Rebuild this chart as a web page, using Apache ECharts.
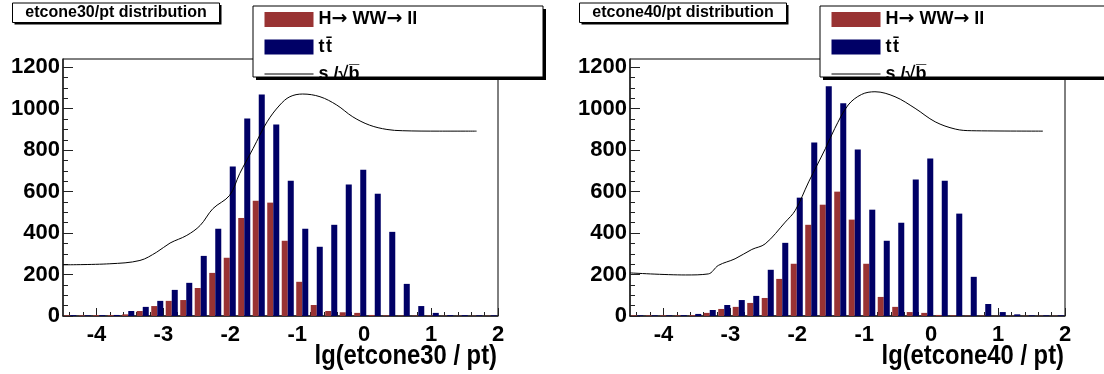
<!DOCTYPE html>
<html>
<head>
<meta charset="utf-8">
<script src="https://cdn.jsdelivr.net/npm/echarts@6/dist/echarts.min.js"></script>
<style>
html,body{margin:0;padding:0;background:#fff;}
#c{width:1104px;height:374px;}
</style>
</head>
<body>
<div id="c"></div>
<script>
// ---- data ----
const binCount = 30; // 30 bins from -4.5 to 2
const binLabels = Array.from({length: binCount}, (_, i) => String(i));
const xTickLabels = [-4, -3, -2, -1, 0, 1, 2];
const yTickLabels = [0, 200, 400, 600, 800, 1000, 1200];

const sigName = 'H\u2192 WW\u2192 ll';
const bkgName = 't\u200At\u0304';
const ratioName = 's /\u221Ab\u0305';

// etcone30/pt
const sig30 = [3,3,4,4,8,24,48,73,77,135,208,281,473,556,547,363,165,53,24,18,15,5,3,2,2,2,1,1,1,1];
const bkg30 = [4,3,4,5,24,44,73,126,160,290,421,721,953,1069,924,653,421,334,440,634,706,590,406,155,48,15,4,4,3,3];
const ratio30X = [-4.5,-3.8,-3.35,-3.1,-2.9,-2.65,-2.45,-2.26,-2.01,-1.86,-1.66,-1.45,-1.26,-1.11,-0.92,-0.66,-0.41,-0.17,0.08,0.34,0.57,1.13,1.68];
const ratio30Y = [247,252,268,308,352,389,437,518,582,687,808,937,1018,1058,1071,1058,1018,961,921,900,894,892,892];

// etcone40/pt
const sig40 = [3,3,3,3,4,15,34,44,63,87,179,252,440,537,600,465,252,92,44,19,15,5,3,2,2,1,1,1,1,1];
const bkg40 = [3,3,3,4,10,29,53,77,97,223,353,571,837,1108,1026,803,513,363,450,658,760,653,494,189,58,19,8,3,3,3];
const ratio40X = [-4.5,-3.67,-3.33,-3.18,-2.93,-2.68,-2.48,-2.18,-2.03,-1.83,-1.58,-1.44,-1.24,-1.04,-0.84,-0.54,-0.24,0.06,0.36,0.60,1.67];
const ratio40Y = [208,198,203,244,276,321,348,453,510,647,808,905,1018,1069,1082,1058,1002,937,902,894,892];

const panels = [
  {title: 'etcone30/pt distribution', xName: 'lg(etcone30 / pt)', sig: sig30, bkg: bkg30, rx: ratio30X, ry: ratio30Y, left: 63},
  {title: 'etcone40/pt distribution', xName: 'lg(etcone40 / pt)', sig: sig40, bkg: bkg40, rx: ratio40X, ry: ratio40Y, left: 630}
];

// ---- styling ----
const RED = '#993333', BLUE = '#000066';
const FONT = '"Liberation Sans", Arial, sans-serif';
const AX = '#222';
const XMIN = -4.5, XMAX = 2, YMAX = 1240;
const gridW = 435, gridTop = 59, gridH = 257;

const minorX = [];
for (let k = -22; k <= 10; k++) { if (k % 5 !== 0) minorX.push(+(k * 0.2).toFixed(1)); }
const minorY = [];
for (let v = 50; v <= 1200; v += 50) { if (v % 200 !== 0) minorY.push(v); }

const grid = [], xAxis = [], yAxis = [], series = [], legend = [], graphic = [];
panels.forEach((p, i) => {
  grid.push({left: p.left, top: gridTop, width: gridW, height: gridH, show: true, containLabel: false,
             outerBoundsMode: 'none',
             borderColor: '#000', borderWidth: 1, backgroundColor: 'transparent'});
  const xb = xAxis.length, yb = yAxis.length;
  xAxis.push({type: 'category', gridIndex: i, data: binLabels, position: 'bottom', boundaryGap: true,
              axisLine: {show: false, onZero: false}, axisTick: {show: false}, axisLabel: {show: false}, splitLine: {show: false}});
  xAxis.push({type: 'value', gridIndex: i, min: XMIN, max: XMAX, position: 'bottom',
              axisLine: {show: true, onZero: false, lineStyle: {color: AX, width: 1.5}},
              axisTick: {show: true, inside: true, length: 8, customValues: xTickLabels, lineStyle: {color: AX, width: 1}},
              axisLabel: {show: true, customValues: xTickLabels, margin: 8, color: '#000',
                          fontFamily: FONT, fontWeight: 'bold', fontSize: 22, formatter: v => String(v)},
              splitLine: {show: false}});
  xAxis.push({type: 'value', gridIndex: i, min: XMIN, max: XMAX, position: 'bottom',
              axisLine: {show: false, onZero: false},
              axisTick: {show: true, inside: true, length: 4, customValues: minorX, lineStyle: {color: AX, width: 1}},
              axisLabel: {show: false}, splitLine: {show: false}});
  yAxis.push({type: 'value', gridIndex: i, min: 0, max: YMAX, position: 'left',
              axisLine: {show: true, onZero: false, lineStyle: {color: AX, width: 1.5}},
              axisTick: {show: true, inside: true, length: 10, customValues: yTickLabels, lineStyle: {color: AX, width: 1}},
              axisLabel: {show: true, customValues: yTickLabels, margin: 3, color: '#000',
                          fontFamily: FONT, fontWeight: 'bold', fontSize: 22, formatter: v => String(v)},
              splitLine: {show: false}});
  yAxis.push({type: 'value', gridIndex: i, min: 0, max: YMAX, position: 'left',
              axisLine: {show: false, onZero: false},
              axisTick: {show: true, inside: true, length: 5, customValues: minorY, lineStyle: {color: AX, width: 1}},
              axisLabel: {show: false}, splitLine: {show: false}});
  series.push({name: sigName, type: 'bar', xAxisIndex: xb, yAxisIndex: yb, data: p.sig,
               itemStyle: {color: RED}, barGap: '0%', barCategoryGap: '17%'});
  series.push({name: bkgName, type: 'bar', xAxisIndex: xb, yAxisIndex: yb, data: p.bkg,
               itemStyle: {color: BLUE}, barGap: '0%', barCategoryGap: '17%'});
  series.push({name: ratioName, type: 'line', xAxisIndex: xb + 1, yAxisIndex: yb,
               data: p.rx.map((x, k) => [x, p.ry[k]]), smooth: 0.35, symbol: 'none', showSymbol: false,
               lineStyle: {color: '#000', width: 1}, itemStyle: {color: '#000'}, z: 3});

  const dx = p.left - 63;
  // x axis title
  graphic.push({type: 'text', z: 7, x: 497 + dx, y: 356, scaleX: 0.85,
                style: {text: p.xName, fill: '#000', font: 'bold 28px ' + FONT, align: 'right', verticalAlign: 'middle'}});
  // title box with shadow
  graphic.push({type: 'rect', z: 5, shape: {x: 14.5 + dx, y: 5, width: 207, height: 19.5}, style: {fill: '#000'}});
  graphic.push({type: 'rect', z: 6, shape: {x: 12.5 + dx, y: 3, width: 207, height: 19.5},
                style: {fill: '#fff', stroke: '#000', lineWidth: 1}});
  graphic.push({type: 'text', z: 7, x: 116 + dx, y: 13,
                style: {text: p.title, fill: '#000', font: 'bold 16px ' + FONT, align: 'center', verticalAlign: 'middle'}});
  // legend box with shadow
  graphic.push({type: 'rect', z: 5, shape: {x: 256 + dx, y: 9, width: 290, height: 71}, style: {fill: '#000'}});
  graphic.push({type: 'rect', z: 6, shape: {x: 253 + dx, y: 6, width: 290, height: 71},
                style: {fill: '#fff', stroke: '#000', lineWidth: 1}});
  legend.push({show: true, orient: 'vertical', left: 264 + dx, top: 10, z: 10, padding: 0,
               itemWidth: 49, itemHeight: 15, itemGap: 9, selectedMode: false,
               formatter: n => n.replace(/\u2192/g, '{a|\u2192}'),
               textStyle: {color: '#000', fontFamily: FONT, fontWeight: 'bold', fontSize: 18, lineHeight: 15,
                           rich: {a: {fontFamily: '"DejaVu Sans"', fontWeight: 'bold', fontSize: 19, lineHeight: 15, color: '#000'}}},
               data: [{name: sigName, icon: 'rect'}, {name: bkgName, icon: 'rect'},
                      {name: ratioName, itemStyle: {opacity: 0}, lineStyle: {color: '#000', width: 1}}]});
});

const chart = echarts.init(document.getElementById('c'), null, {renderer: 'canvas'});
chart.setOption({animation: false, backgroundColor: '#fff', grid, xAxis, yAxis, series, legend, graphic});
</script>
</body>
</html>
